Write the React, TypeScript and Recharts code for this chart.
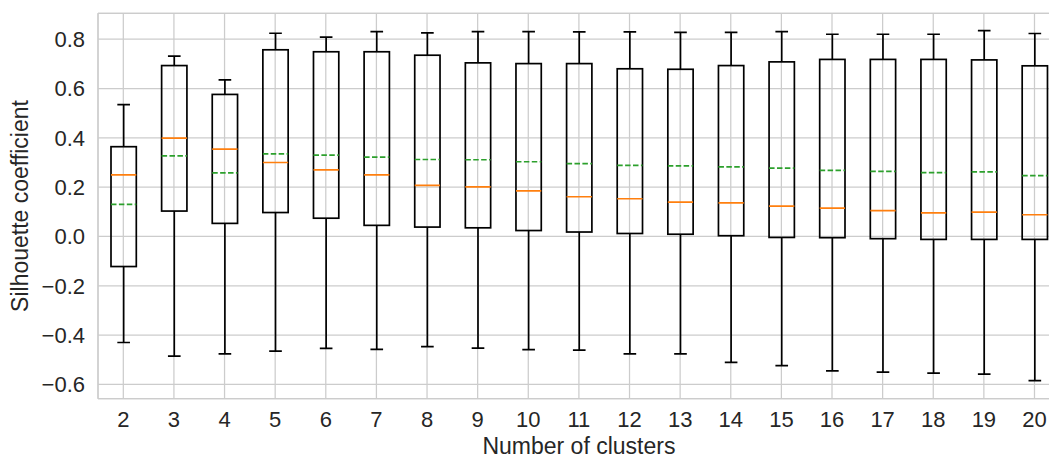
import React from 'react';
import { BarChart, Bar, XAxis, YAxis, CartesianGrid, ReferenceLine } from 'recharts';

const CATEGORIES = ['2', '3', '4', '5', '6', '7', '8', '9', '10', '11', '12', '13', '14', '15', '16', '17', '18', '19', '20'];
const WHISKER_HIGH = [0.535, 0.731, 0.635, 0.824, 0.808, 0.831, 0.826, 0.831, 0.831, 0.830, 0.830, 0.828, 0.828, 0.831, 0.820, 0.820, 0.820, 0.835, 0.823];
const Q3 = [0.364, 0.693, 0.576, 0.757, 0.749, 0.749, 0.735, 0.704, 0.701, 0.701, 0.680, 0.678, 0.693, 0.708, 0.718, 0.718, 0.718, 0.716, 0.692];
const MEDIAN = [0.250, 0.399, 0.354, 0.300, 0.270, 0.250, 0.207, 0.201, 0.185, 0.161, 0.153, 0.139, 0.136, 0.123, 0.115, 0.105, 0.096, 0.099, 0.088];
const MEAN = [0.130, 0.327, 0.258, 0.335, 0.330, 0.322, 0.312, 0.311, 0.303, 0.295, 0.288, 0.286, 0.282, 0.277, 0.268, 0.264, 0.259, 0.262, 0.247];
const Q1 = [-0.122, 0.103, 0.053, 0.097, 0.074, 0.045, 0.038, 0.035, 0.024, 0.018, 0.012, 0.009, 0.003, -0.004, -0.005, -0.009, -0.012, -0.012, -0.012];
const WHISKER_LOW = [-0.430, -0.485, -0.476, -0.465, -0.454, -0.458, -0.447, -0.453, -0.459, -0.461, -0.476, -0.476, -0.511, -0.524, -0.545, -0.550, -0.554, -0.558, -0.585];
const Y_TICKS = [-0.6, -0.4, -0.2, 0.0, 0.2, 0.4, 0.6, 0.8];
const Y_DOMAIN: [number, number] = [-0.658, 0.905];

const data = CATEGORIES.map((k, i) => ({
  k,
  lo: WHISKER_LOW[i],
  q1: Q1[i],
  med: MEDIAN[i],
  mean: MEAN[i],
  q3: Q3[i],
  hi: WHISKER_HIGH[i],
}));

const FONT = '"Liberation Sans", Arial, sans-serif';
const TEXT = '#262626';
const GRID = '#cccccc';

const BoxShape = (props: any) => {
  const { x, y, width, height, payload } = props;
  if (!payload) return null;
  const { lo, hi, q1, q3, med, mean } = payload;
  const toPx = (v: number) => y + ((hi - v) / (hi - lo)) * height;
  const cx = x + width / 2;
  const capHalf = width / 4;
  const yHi = toPx(hi);
  const yLo = toPx(lo);
  const yQ3 = toPx(q3);
  const yQ1 = toPx(q1);
  const yMed = toPx(med);
  const yMean = toPx(mean);
  const sw = 1.7;
  return (
    <g>
      <line x1={cx} x2={cx} y1={yHi} y2={yQ3} stroke="#000" strokeWidth={sw} />
      <line x1={cx} x2={cx} y1={yQ1} y2={yLo} stroke="#000" strokeWidth={sw} />
      <line x1={cx - capHalf} x2={cx + capHalf} y1={yHi} y2={yHi} stroke="#000" strokeWidth={sw} />
      <line x1={cx - capHalf} x2={cx + capHalf} y1={yLo} y2={yLo} stroke="#000" strokeWidth={sw} />
      <rect x={x} y={yQ3} width={width} height={yQ1 - yQ3} fill="none" stroke="#000" strokeWidth={sw} />
      <line x1={x} x2={x + width} y1={yMed} y2={yMed} stroke="#ff7f0e" strokeWidth={1.7} />
      <line x1={x} x2={x + width} y1={yMean} y2={yMean} stroke="#2ca02c" strokeWidth={1.7} strokeDasharray="5.5 2.4" />
    </g>
  );
};

const fmt = (v: number) => v.toFixed(1).replace('-', '\u2212');

export default function App() {
  return (
    <div style={{ position: 'fixed', left: 0, top: 0, width: 1049, height: 457, overflow: 'hidden', background: '#fff' }}>
      <BarChart
        width={1070}
        height={457}
        data={data}
        margin={{ top: 13.3, right: 10.2, bottom: 28.3, left: 0 }}
        barCategoryGap={0}
      >
        <CartesianGrid stroke={GRID} strokeWidth={1.25} />
        <XAxis
          dataKey="k"
          type="category"
          height={30}
          tickSize={0}
          tickMargin={13}
          tickLine={false}
          axisLine={{ stroke: GRID, strokeWidth: 1.25 }}
          tick={{ fill: TEXT, fontSize: 22, fontFamily: FONT }}
          interval={0}
          label={{ value: 'Number of clusters', position: 'bottom', offset: 9, fill: TEXT, fontSize: 23, fontFamily: FONT }}
        />
        <YAxis
          type="number"
          domain={Y_DOMAIN}
          ticks={Y_TICKS}
          allowDataOverflow
          width={98}
          tickSize={0}
          tickMargin={13}
          tickLine={false}
          axisLine={{ stroke: GRID, strokeWidth: 1.25 }}
          tickFormatter={fmt}
          tick={{ fill: TEXT, fontSize: 22, fontFamily: FONT }}
          label={{ value: 'Silhouette coefficient', angle: -90, position: 'insideLeft', offset: 20, fill: TEXT, fontSize: 23, fontFamily: FONT, style: { textAnchor: 'middle' } }}
        />
        <ReferenceLine y={Y_DOMAIN[1]} stroke={GRID} strokeWidth={1.25} ifOverflow="extendDomain" />
        <Bar dataKey={(d: any) => [d.lo, d.hi]} barSize={25.3} shape={<BoxShape />} isAnimationActive={false} />
      </BarChart>
    </div>
  );
}
